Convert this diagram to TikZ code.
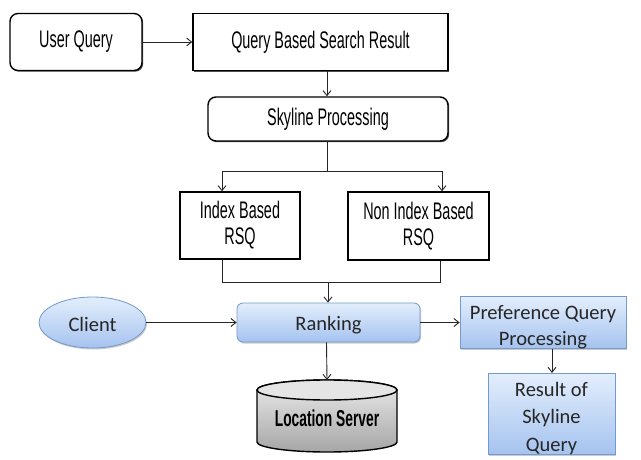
\documentclass[tikz,border=0pt]{standalone}
\usepackage{fontspec}
\usetikzlibrary{arrows.meta,shapes.geometric,shadows}
\newfontfamily\condfont[FakeStretch=0.6]{Liberation Sans}
\newfontfamily\calfont{Carlito}
\newcommand\bluestrut{\rule{0pt}{23pt}}
\newcommand\bluestrutone{\rule{0pt}{19pt}}
\definecolor{bluetop}{HTML}{E3EEFC}
\definecolor{bluebot}{HTML}{A5C3EF}
\definecolor{blueedge}{HTML}{7399CF}
\tikzset{
  arr/.style={draw=black!85, line width=0.9pt, -{Straight Barb[length=5pt,width=8pt]}},
  link/.style={draw=black!85, line width=0.9pt},
  blackbox/.style={draw=black, line width=1.4pt, fill=white, align=center,
    font=\condfont\fontsize{24}{26}\selectfont,
    drop shadow={shadow xshift=1.2pt, shadow yshift=-1.2pt, fill=black!70, opacity=1}},
  roundbox/.style={blackbox, rounded corners=8pt},
  bluebox/.style={draw=blueedge, line width=0.8pt, top color=bluetop, bottom color=bluebot,
    align=center, text=black!85, font=\calfont\fontsize{20.5}{26}\selectfont,
    drop shadow={shadow xshift=1pt, shadow yshift=-1.5pt, fill=black!40, opacity=0.5}},
}
\begin{document}
\begin{tikzpicture}[x=1pt,y=-1pt]
\useasboundingbox (0,0) rectangle (641,460);
\fill[white] (0,0) rectangle (641,460);

% query stage
\node[roundbox, minimum width=132pt, minimum height=57pt] (uq) at (76,42) {User Query};
\node[blackbox, minimum width=255pt, minimum height=57pt] (qb) at (320.5,42) {Query Based Search Result};
\node[roundbox, minimum width=240pt, minimum height=44pt] (sp) at (328,119) {Skyline Processing};

% reverse skyline query variants
\node[blackbox, minimum width=120pt, minimum height=67pt] (ib) at (240,225.5) {Index Based\\RSQ};
\node[blackbox, minimum width=141pt, minimum height=68pt] (nib) at (418.5,226) {Non Index Based\\RSQ};

% ranking stage
\node[bluebox, rounded corners=6pt, minimum width=183pt, minimum height=39pt, inner sep=0pt] (rk) at (328.5,322.5) {\bluestrutone Ranking};
\node[bluebox, ellipse, minimum width=107pt, minimum height=51pt, inner sep=0pt] (cl) at (92.5,322.5) {\bluestrutone Client};
\node[bluebox, minimum width=166pt, minimum height=51pt, inner sep=0pt] (pq) at (543,322.5) {\bluestrut Preference Query\\Processing};
\node[bluebox, minimum width=127pt, minimum height=72pt, inner sep=0pt, font=\calfont\fontsize{20.5}{27.5}\selectfont] (rs) at (551.5,414) {\bluestrut Result of\\Skyline\\Query};

% location server cylinder
\shade[top color=black!8, bottom color=black!35, draw=black, line width=1.4pt]
  (257,390) -- (257,442) arc[start angle=180, end angle=360, x radius=70pt, y radius=10pt]
  -- (397,390) arc[start angle=0, end angle=180, x radius=70pt, y radius=10pt] -- cycle;
\draw[black, line width=1.4pt, fill=black!10] (327,390) ellipse[x radius=70pt, y radius=10pt];
\node[font=\condfont\bfseries\fontsize{23}{26}\selectfont, minimum width=140pt, minimum height=72pt] (ls) at (327,418) {Location Server};

% connectors
\coordinate (fork) at (327,171);
\coordinate (merge) at (328,282);
\draw[arr] (uq.east) -- (qb.west);
\draw[arr] ([xshift=6.5pt]qb.south) -- ([xshift=-1pt]sp.north);
\draw[link] ([xshift=-1pt]sp.south) -- (fork);
\draw[arr] (fork) -| ([xshift=-18pt]ib.north);
\draw[arr] (fork) -| ([xshift=23.5pt]nib.north);
\draw[link] ([xshift=-18pt]ib.south) |- (merge);
\draw[link] ([xshift=21.5pt]nib.south) |- (merge);
\draw[arr] (merge) -- (merge |- rk.north);
\draw[arr] (cl.east) -- (rk.west);
\draw[arr] (rk.east) -- (pq.west);
\draw[arr] ([xshift=9pt]pq.south) -- ([xshift=0.5pt]rs.north);
\draw[arr] ([xshift=-2pt]rk.south) -- (327,380);
\end{tikzpicture}
\end{document}
